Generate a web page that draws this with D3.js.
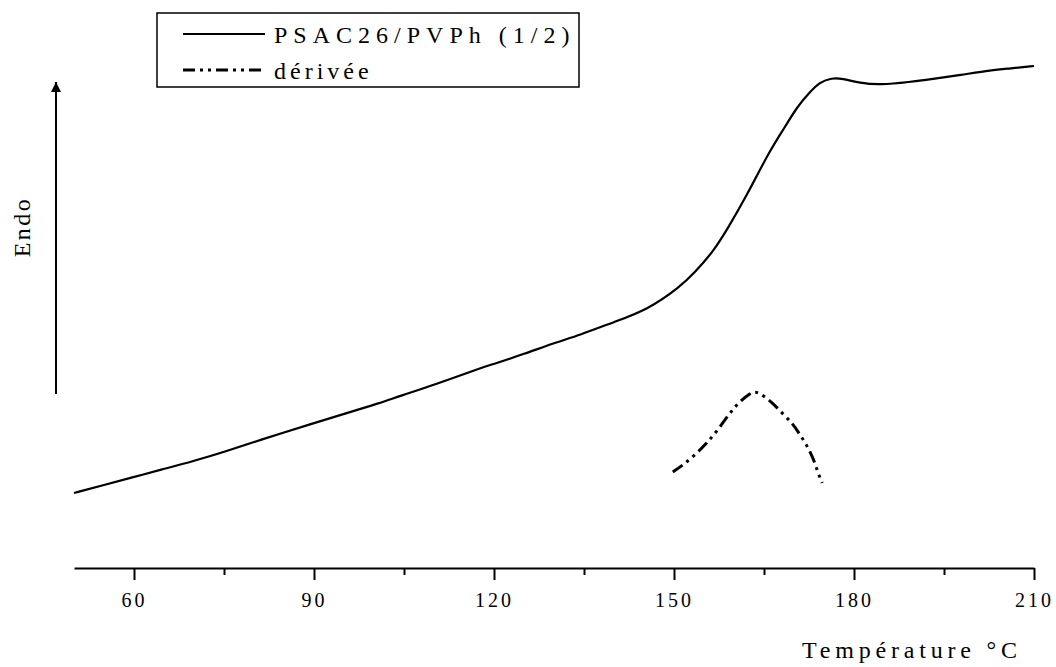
<!DOCTYPE html>
<html>
<head>
<meta charset="utf-8">
<script src="https://cdn.jsdelivr.net/npm/d3@7"></script>
<style>
  html, body { margin: 0; padding: 0; background: #fff; }
  svg { display: block; }
  svg text { font-family: "Liberation Serif", "Times New Roman", Times, "DejaVu Serif", serif !important; fill: #000; }
</style>
</head>
<body>
<svg id="chart" width="1056" height="667"></svg>
<script>
// ---- Data ----
const temperature = [50, 55, 60, 64.3, 70, 75, 81, 90, 95, 101, 104.3, 110, 117.7, 120, 125, 130, 134.3, 140, 145.5, 151, 153.5, 156.5, 159, 162, 166, 168.5, 170.5, 172.5, 174.3, 176.3, 178, 181, 184.3, 189.3, 193, 197.7, 203, 206, 210];
const heatFlow    = [15.0, 16.6, 18.2, 19.6, 21.4, 23.2, 25.6, 29.0, 30.8, 33.0, 34.4, 36.6, 40.0, 40.8, 42.8, 45.0, 46.6, 49.2, 51.6, 56.2, 59.2, 63.2, 68.0, 74.2, 83.6, 88.2, 92.2, 95.0, 97.2, 98.0, 97.9, 97.0, 96.6, 97.2, 97.8, 98.6, 99.6, 99.9, 100.4];

const derivTemperature = [149.8, 151.5, 153.5, 155.5, 157.3, 159.3, 160.7, 162.7, 163.5, 164.3, 166.3, 168, 169.7, 170.7, 171.8, 172.7, 173.5, 174, 174.7];
const derivValue       = [19.2, 20.6, 22.6, 25.0, 27.6, 31.0, 33.0, 35.0, 35.2, 35.0, 33.2, 31.0, 29.0, 27.2, 25.2, 23.2, 21.0, 19.0, 17.0];

const majorTicks = [60, 90, 120, 150, 180, 210];
const minorTicks = [75, 105, 135, 165, 195];
const seriesNames = ["PSAC26/PVPh (1/2)", "dérivée"];
const xTitle = "Température °C";
const yTitle = "Endo";

// ---- Layout ----
const FONT = '"Liberation Serif", "Times New Roman", Times, "DejaVu Serif", serif';
const svg = d3.select("#chart");
const x = d3.scaleLinear().domain([50, 210]).range([74, 1034]);
const y = d3.scaleLinear().domain([0, 100]).range([568, 68]);
const axisY = 568;

// main curve
const line = d3.line().x(d => x(d[0])).y(d => y(d[1])).curve(d3.curveBasis);
svg.append("path")
  .datum(d3.zip(temperature, heatFlow))
  .attr("d", line)
  .attr("fill", "none").attr("stroke", "#000").attr("stroke-width", 2.2);

// derivative
const dashStyle = "12,5,3,5,3,5";
svg.append("path")
  .datum(d3.zip(derivTemperature, derivValue))
  .attr("d", line)
  .attr("fill", "none").attr("stroke", "#000").attr("stroke-width", 3)
  .attr("stroke-dasharray", dashStyle);

// x axis (major)
const gMajor = svg.append("g").attr("transform", `translate(0,${axisY})`)
  .call(d3.axisBottom(x).tickValues(majorTicks).tickSize(12).tickSizeOuter(0).tickPadding(13).tickFormat(d3.format("d")));
gMajor.attr("font-family", FONT).attr("font-size", 20);
gMajor.select(".domain").attr("stroke-width", 2);
gMajor.selectAll(".tick line").attr("stroke-width", 2);
gMajor.selectAll(".tick text")
  .attr("font-family", FONT)
  .style("font-size", "20px").style("letter-spacing", "3px");

// minor ticks
const gMinor = svg.append("g").attr("transform", `translate(0,${axisY})`)
  .call(d3.axisBottom(x).tickValues(minorTicks).tickSize(7).tickSizeOuter(0).tickFormat(""));
gMinor.select(".domain").remove();
gMinor.selectAll(".tick line").attr("stroke-width", 2);

// x title
svg.append("text").attr("x", 802).attr("y", 658)
  .attr("font-family", FONT)
  .style("font-size", "24px").style("letter-spacing", "4.8px")
  .text(xTitle);

// Endo arrow
svg.append("defs").append("marker")
  .attr("id", "arrow").attr("viewBox", "0 0 10 10").attr("refX", 10).attr("refY", 5)
  .attr("markerWidth", 10).attr("markerHeight", 10).attr("markerUnits", "userSpaceOnUse")
  .attr("orient", "auto")
  .append("path").attr("d", "M0,0 L10,5 L0,10 Z").attr("fill", "#000");
svg.append("line").attr("x1", 56).attr("x2", 56).attr("y1", 394).attr("y2", 82)
  .attr("stroke", "#000").attr("stroke-width", 2).attr("marker-end", "url(#arrow)");

svg.append("text")
  .attr("transform", "translate(30,227) rotate(-90)")
  .attr("text-anchor", "middle")
  .attr("font-family", FONT)
  .style("font-size", "24px").style("letter-spacing", "2.5px")
  .text(yTitle);

// legend
const lg = svg.append("g");
lg.append("rect").attr("x", 157).attr("y", 13).attr("width", 422).attr("height", 74)
  .attr("fill", "none").attr("stroke", "#000").attr("stroke-width", 1.5);
const legendRows = [
  { name: seriesNames[0], ly: 34, ty: 43, dash: null, w: 2.2, ls: "6px" },
  { name: seriesNames[1], ly: 70, ty: 79, dash: dashStyle, w: 3, ls: "4px" }
];
legendRows.forEach(r => {
  lg.append("line").attr("x1", 183).attr("x2", 265).attr("y1", r.ly).attr("y2", r.ly)
    .attr("stroke", "#000").attr("stroke-width", r.w)
    .attr("stroke-dasharray", r.dash);
  lg.append("text").attr("x", 274).attr("y", r.ty)
    .attr("font-family", FONT)
    .style("font-size", "24px").style("letter-spacing", r.ls)
    .text(r.name);
});
</script>
</body>
</html>
